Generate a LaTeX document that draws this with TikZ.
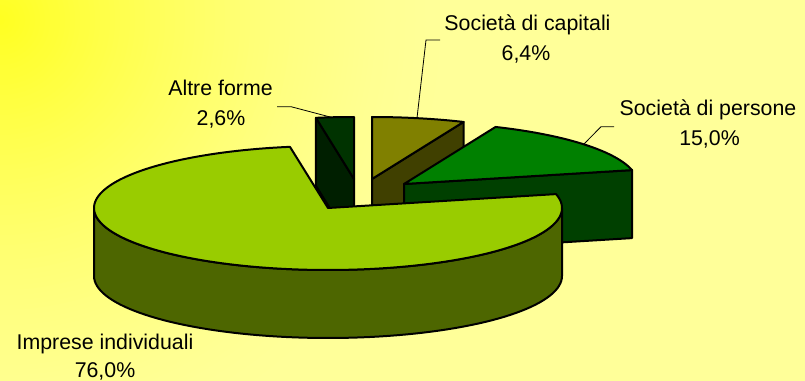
\documentclass[tikz,border=0pt]{standalone}
\usepackage{fontspec}
\setmainfont{Liberation Sans}
\usetikzlibrary{calc}
\definecolor{yelA}{HTML}{FFFF20}
\definecolor{yelB}{HTML}{FFFF99}
\definecolor{bigtop}{HTML}{99CC00}
\definecolor{bigside}{HTML}{4D6600}
\definecolor{alttop}{HTML}{003300}
\definecolor{altside}{HTML}{001F00}
\definecolor{captop}{HTML}{808000}
\definecolor{capside}{HTML}{404000}
\definecolor{pertop}{HTML}{008000}
\definecolor{perside}{HTML}{004000}
\tikzset{
  face/.style={draw=black, line width=1.5pt, line join=round},
  lbl/.style={font=\fontsize{16}{19}\selectfont, inner sep=0pt, anchor=base},
  leader/.style={draw=black, line width=0.6pt}
}
\begin{document}
\begin{tikzpicture}[x=0.75pt,y=-0.75pt]
\useasboundingbox (0,0) rectangle (805,381);
% background: radial fade from the top-left corner
\fill[yelB] (0,0) rectangle (805,381);
\begin{scope}
  \clip (0,0) rectangle (805,381);
  \foreach \i in {90,89,...,1}{
    \pgfmathsetmacro\p{100*(1-\i/90)^1.5}
    \fill[yelA!\p!yelB] (0,20) circle[radius={\i*3.75pt}];
  }
\end{scope}
% slice centres
\coordinate (B) at (328,208);
\coordinate (A) at (354,179);
\coordinate (C) at (372,179);
\coordinate (P) at (404,184);
% Altre forme (90 -> 99.36)
\filldraw[face, fill=altside] (A) -- ({354+234*cos(99.36)},{179-62*sin(99.36)})
  -- ({354+234*cos(99.36)},{247-62*sin(99.36)}) -- ($(A)+(0,68)$) -- cycle;
\filldraw[face, fill=alttop] (A) -- plot[domain=90:99.36,samples=10,variable=\t]
  ({354+234*cos(\t)},{179-62*sin(\t)}) -- cycle;
% Societa di capitali (66.96 -> 90)
\filldraw[face, fill=capside] (C) -- ({372+234*cos(66.96)},{179-62*sin(66.96)})
  -- ({372+234*cos(66.96)},{247-62*sin(66.96)}) -- ($(C)+(0,68)$) -- cycle;
\filldraw[face, fill=captop] (C) -- plot[domain=66.96:90,samples=20,variable=\t]
  ({372+234*cos(\t)},{179-62*sin(\t)}) -- cycle;
% Societa di persone (12.96 -> 66.96)
\filldraw[face, fill=perside] (P) -- ({404+234*cos(12.96)},{184-62*sin(12.96)})
  -- ({404+234*cos(12.96)},{252-62*sin(12.96)}) -- ($(P)+(0,68)$) -- cycle;
\filldraw[face, fill=pertop] (P) -- plot[domain=12.96:66.96,samples=40,variable=\t]
  ({404+234*cos(\t)},{184-62*sin(\t)}) -- cycle;
% Imprese individuali (99.36 -> 372.96)
\filldraw[face, fill=bigside] plot[domain=180:360,samples=80,variable=\t]
  ({328+234*cos(\t)},{208-62*sin(\t)})
  -- plot[domain=360:180,samples=80,variable=\t]
  ({328+234*cos(\t)},{276-62*sin(\t)}) -- cycle;
\filldraw[face, fill=bigtop] (B) -- plot[domain=99.36:372.96,samples=140,variable=\t]
  ({328+234*cos(\t)},{208-62*sin(\t)}) -- cycle;
% labels
\node[lbl] (cap1) at (527.5,30.7) {Società di capitali};
\node[lbl] (cap2) at (526,61) {6,4\%};
\node[lbl] (per1) at (708,116) {Società di persone};
\node[lbl] (per2) at (709.5,145.7) {15,0\%};
\node[lbl] (alt1) at (220.5,96) {Altre forme};
\node[lbl] (alt2) at (221,126) {2,6\%};
\node[lbl] (imp1) at (105,349) {Imprese individuali};
\node[lbl] (imp2) at (105,377) {76,0\%};
% leader lines
\coordinate (capL0) at (440,40);
\coordinate (capL1) at (426,40);
\coordinate (capL2) at (417,118);
\coordinate (perL0) at (614,126.7);
\coordinate (perL1) at (601,126.7);
\coordinate (perL2) at (584,144);
\coordinate (altL0) at (277,106.7);
\coordinate (altL1) at (291,106.7);
\coordinate (altL2) at (332,117.5);
\draw[leader] (capL0) -- (capL1) -- (capL2);
\draw[leader] (perL0) -- (perL1) -- (perL2);
\draw[leader] (altL0) -- (altL1) -- (altL2);
\end{tikzpicture}
\end{document}
